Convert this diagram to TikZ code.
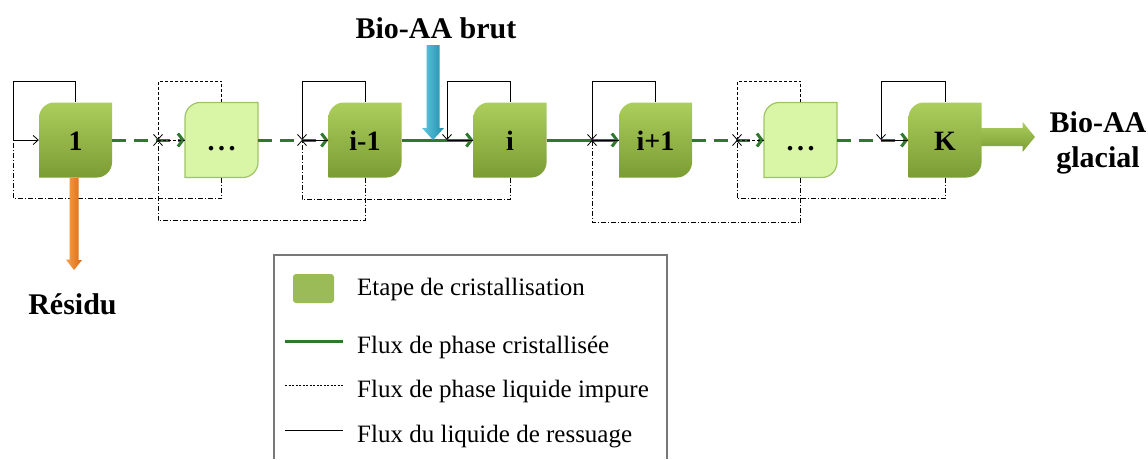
\documentclass[tikz,border=0pt]{standalone}
\usepackage{fontspec}
\setmainfont{Liberation Serif}
\usetikzlibrary{arrows.meta,backgrounds,calc}

\definecolor{stepTop}{RGB}{172,206,92}
\definecolor{stepBot}{RGB}{122,156,52}
\definecolor{dotFill}{RGB}{216,246,166}
\definecolor{dotEdge}{RGB}{160,196,100}
\definecolor{flowGreen}{RGB}{45,122,45}
\definecolor{aquaL}{RGB}{95,200,225}
\definecolor{aquaD}{RGB}{35,140,170}
\definecolor{orangeL}{RGB}{250,160,70}
\definecolor{orangeD}{RGB}{215,105,20}
\definecolor{legGreen}{RGB}{155,187,89}
\definecolor{legFrame}{RGB}{120,120,120}

\newcommand\diagpath[1]{($(#1.center)+(-36.5,37.5)$) -- ($(#1.center)+(-36.5,-22.5)$) .. controls ($(#1.center)+(-36.5,-30.5)$) and ($(#1.center)+(-29.5,-37.5)$) .. ($(#1.center)+(-21.5,-37.5)$) -- ($(#1.center)+(36.5,-37.5)$) -- ($(#1.center)+(36.5,22.5)$) .. controls ($(#1.center)+(36.5,30.5)$) and ($(#1.center)+(29.5,37.5)$) .. ($(#1.center)+(21.5,37.5)$) -- cycle}

\tikzset{
  stepbox/.style={minimum width=73pt, minimum height=75pt, inner sep=0pt,
    text height=20pt, text depth=0pt,
    font=\fontsize{28}{30}\selectfont\bfseries},
  flow/.style={draw=flowGreen, line width=3pt, -{Straight Barb[length=5pt,width=13pt]}},
  flowdash/.style={flow, dash pattern=on 14pt off 8pt},
  ress/.style={draw=black, line width=0.8pt},
  resstip/.style={ress, -{Straight Barb[length=5pt,width=9pt]}},
  loopdash/.style={ress, dash pattern=on 3pt off 2pt},
  liq/.style={ress, dash pattern=on 5pt off 2pt on 1pt off 2pt},
  liqtip/.style={liq, -{Straight Barb[length=5pt,width=9pt]}},
  bigtext/.style={inner sep=0pt, font=\fontsize{30}{35}\selectfont\bfseries},
  legtext/.style={inner sep=0pt, anchor=base west, font=\fontsize{25}{28}\selectfont},
}

\begin{document}
\begin{tikzpicture}[x=1pt, y=-1pt]
    \useasboundingbox (0,0) rectangle (1148,459);

    \node[stepbox] (s1) at (75.5,140) {1};
    \node[stepbox] (s2) at (221.5,140) {.\kern3.5pt.\kern3.5pt.};
    \node[stepbox] (s3) at (365,140) {i-1};
    \node[stepbox] (s4) at (510,140) {i};
    \node[stepbox] (s5) at (655.5,140) {i+1};
    \node[stepbox] (s6) at (800.5,140) {.\kern3.5pt.\kern3.5pt.};
    \node[stepbox] (s7) at (945,140) {K};

    \begin{scope}[on background layer]
        \foreach \n in {s1,s3,s4,s5,s7}
            \shade[top color=stepTop, bottom color=stepBot] \diagpath{\n};
        \foreach \n in {s2,s6}
            \filldraw[fill=dotFill, draw=dotEdge, line width=1.2pt] \diagpath{\n};
    \end{scope}

    \coordinate (j1) at (13,140);
    \coordinate (j2) at (158,140);
    \coordinate (j3) at (302,140);
    \coordinate (j4) at (447,140);
    \coordinate (j5) at (592,140);
    \coordinate (j6) at (737,140);
    \coordinate (j7) at (881,140);

    \draw[flowdash] (s1) -- (s2);
    \draw[flowdash] (s2) -- (s3);
    \draw[flow] (s3) -- (s4);
    \draw[flow] (s4) -- (s5);
    \draw[flowdash] (s5) -- (s6);
    \draw[flowdash] (s6) -- (s7);

    \draw[resstip] (s1.north) -- ++(0,-21) -| (j1) -- (s1.west);
    \draw[loopdash, -{Straight Barb[length=5pt,width=9pt]}] (s2.north) -- ++(0,-21) -| (j2);
    \draw[loopdash] (j2) -- (s2.west);
    \draw[resstip] (s3.north) -- ++(0,-21) -| (j3);
    \draw[ress] (j3) -- (s3.west);
    \draw[resstip] (s4.north) -- ++(0,-21) -| (j4);
    \draw[ress] (j4) -- (s4.west);
    \draw[resstip] (s5.north) -- ++(0,-21) -| (j5);
    \draw[ress] (j5) -- (s5.west);
    \draw[loopdash, -{Straight Barb[length=5pt,width=9pt]}] (s6.north) -- ++(0,-21) -| (j6);
    \draw[loopdash] (j6) -- (s6.west);
    \draw[resstip] (s7.north) -- ++(0,-21) -| (j7);
    \draw[ress] (j7) -- (s7.west);

    \draw[liq] (s2.south) -- ++(0,21) -| (j1);
    \draw[liqtip] (s3.south) -- ++(0,43) -| (j2);
    \draw[liqtip] (s4.south) -- ++(0,22) -| (j3);
    \draw[liqtip] (s6.south) -- ++(0,45) -| (j5);
    \draw[liqtip] (s7.south) -- ++(0,21) -| (j6);

    \node[bigtext, anchor=base] (feed) at (436,38) {Bio-AA brut};
    \coordinate (bin) at (433,45);
    \coordinate (bout) at (433,140);
    \shade[left color=aquaL, right color=aquaD] (bin) ++(-6.5,0) -- ++(0,83) -- ++(-4.5,0) -- (bout) -- ++(11,-12) -- ++(-4.5,0) -- ++(0,-83) -- cycle;

    \node[bigtext, anchor=base] (res) at (72.5,314) {Résidu};
    \coordinate (rout) at (74,270);
    \shade[left color=orangeL, right color=orangeD] ([xshift=-1.5pt]s1.south) ++(-4.5,0) -- ++(0,82) -- ++(-3.5,0) -- (rout) -- ++(8,-10) -- ++(-3.5,0) -- ++(0,-82) -- cycle;

    \node[bigtext, align=center] (prod) at (1098,142.6) {Bio-AA\\glacial};
    \coordinate (gout) at (1035,137);
    \shade[top color=stepTop, bottom color=stepBot] ([yshift=3pt]s7.east) ++(0,-9) -- ++(41,0) -- ++(0,-6) -- (gout) -- ++(-12.5,15) -- ++(0,-6) -- ++(-41,0) -- cycle;

    \draw[legFrame, line width=1.5pt] (274,459) -- (274,255) -- (667,255) -- (667,459);
    \node[fill=legGreen, rounded corners=3pt, minimum width=41pt, minimum height=29pt, inner sep=0pt] (lg1) at (313.5,288.5) {};
    \node[legtext] (lt1) at (357,295) {Etape de cristallisation};
    \node[legtext] (lt2) at (357,353) {Flux de phase cristallisée};
    \node[legtext] (lt3) at (357,397) {Flux de phase liquide impure};
    \node[legtext] (lt4) at (357,442) {Flux du liquide de ressuage};
    \draw[flowGreen, line width=3pt] (285,341) -- (343,341);
    \draw[black, line width=0.7pt, dash pattern=on 2pt off 1.5pt] (285,385) -- (343,385);
    \draw[black, line width=0.8pt] (285,430) -- (343,430);
\end{tikzpicture}
\end{document}
